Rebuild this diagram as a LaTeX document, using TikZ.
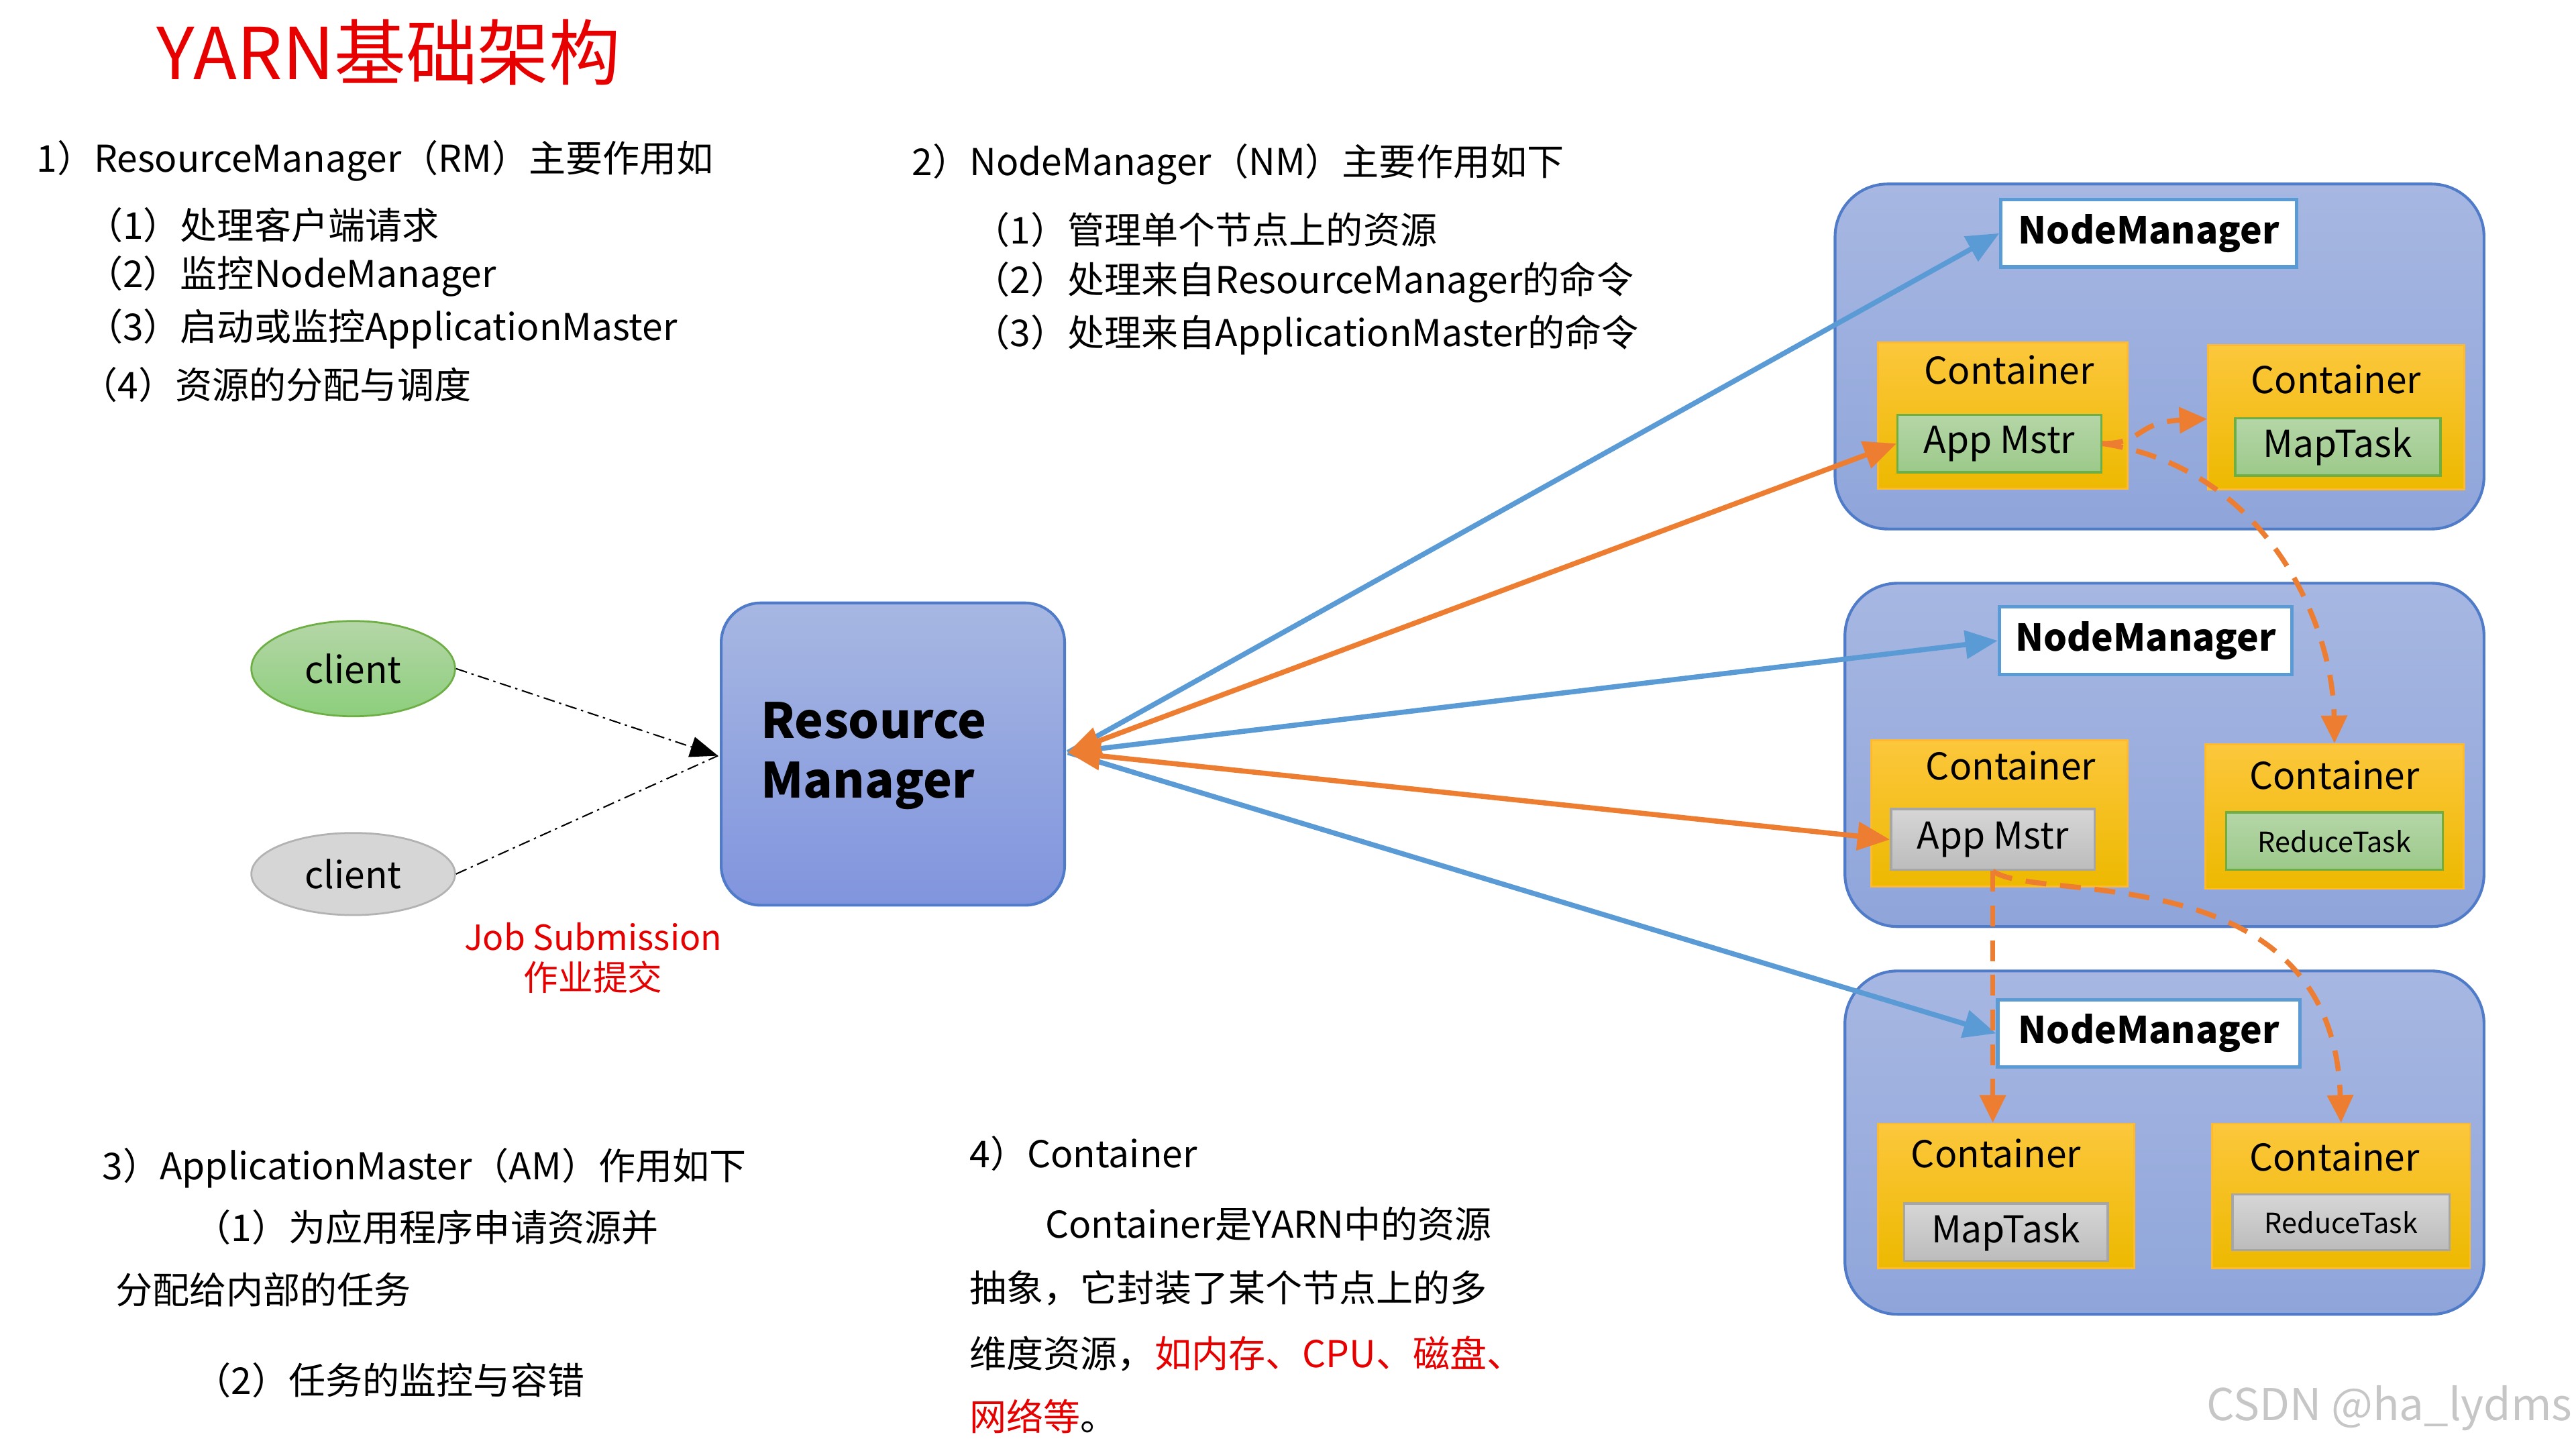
\documentclass[tikz,border=0pt]{standalone}
\usepackage{fontspec}
\setmainfont{Noto Sans CJK SC}
\usetikzlibrary{arrows.meta,shapes.geometric}
\definecolor{nmfill}{HTML}{8FA5DA}
\definecolor{nmtop}{HTML}{A7B7E2}
\definecolor{nmline}{HTML}{4F7BC8}
\definecolor{ctop}{HTML}{FCC73C}
\definecolor{cbot}{HTML}{EDB900}
\definecolor{gtop}{HTML}{B5D6A7}
\definecolor{gbot}{HTML}{9CC98A}
\definecolor{gline}{HTML}{6DAE45}
\definecolor{grtop}{HTML}{D6D6D6}
\definecolor{grbot}{HTML}{BCBCBC}
\definecolor{blueA}{HTML}{5B9BD5}
\definecolor{orA}{HTML}{ED7D31}
\definecolor{redT}{HTML}{E60000}
\tikzset{
 every node/.style={inner sep=0pt},
 txt/.style={anchor=west,font=\fontsize{16}{18}\selectfont},
 nm/.style={draw=nmline,line width=1.2pt,rounded corners=0.8cm,top color=nmtop,bottom color=nmfill},
 nml/.style={draw=blueA,line width=1.5pt,fill=white,font=\fontsize{16}{18}\selectfont\bfseries},
 cont/.style={draw=ctop!80!orange,line width=0.8pt,top color=ctop,bottom color=cbot},
 green/.style={draw=gline,line width=1pt,top color=gtop,bottom color=gbot,font=\fontsize{16}{18}\selectfont},
 grey/.style={draw=gray!70,line width=1pt,top color=grtop,bottom color=grbot,font=\fontsize{16}{18}\selectfont},
 ctxt/.style={font=\fontsize{16}{18}\selectfont},
 barrow/.style={blueA,line width=2.2pt,-{Triangle[length=14pt,width=12pt]}},
 oarrow/.style={orA,line width=2.2pt,{Triangle[length=14pt,width=12pt]}-{Triangle[length=14pt,width=12pt]}},
 darrow/.style={orA,line width=2.2pt,dash pattern=on 9pt off 6pt,-{Triangle[length=12pt,width=11pt]}},
}
\begin{document}
\begin{tikzpicture}[x=0.025cm,y=-0.025cm]
\useasboundingbox (0,0) rectangle (1568,882);
% title
\node[anchor=west,text=redT,font=\fontsize{31}{34}\selectfont] (title) at (95,32) {YARN基础架构};
% block 1
\node[txt] (b1) at (22,98) {1）ResourceManager（RM）主要作用如};
\node[txt] (b1a) at (52,137) {（1）处理客户端请求};
\node[txt] (b1b) at (52,168) {（2）监控NodeManager};
\node[txt] (b1c) at (52,200) {（3）启动或监控ApplicationMaster};
\node[txt] (b1d) at (49,234) {（4）资源的分配与调度};
% block 2
\node[txt] (b2) at (555,100) {2）NodeManager（NM）主要作用如下};
\node[txt] (b2a) at (592,140) {（1）管理单个节点上的资源};
\node[txt] (b2b) at (592,172) {（2）处理来自ResourceManager的命令};
\node[txt] (b2c) at (592,204) {（3）处理来自ApplicationMaster的命令};
% block 3
\node[txt] (b3) at (62,711) {3）ApplicationMaster（AM）作用如下};
\node[txt] (b3a) at (118,747) {（1）为应用程序申请资源并};
\node[txt] (b3b) at (70,785) {分配给内部的任务};
\node[txt] (b3c) at (118,840) {（2）任务的监控与容错};
% block 4
\node[txt] (b4) at (590,702) {4）Container};
\node[txt] (b4a) at (636,745) {Container是YARN中的资源};
\node[txt] (b4b) at (590,784) {抽象，它封装了某个节点上的多};
\node[txt] (b4c) at (590,824) {维度资源，\textcolor{redT}{如内存、CPU、磁盘、}};
\node[txt] (b4d) at (590,862) {\textcolor{redT}{网络等}。};
% watermark
\node[anchor=east,text=gray!45,font=\fontsize{19}{21}\selectfont] (wm) at (1566,857) {CSDN @ha\_lydms};
% clients
\node[draw=gline,line width=0.8pt,ellipse,top color=gtop,bottom color=gbot!90!green,minimum width=124*0.025cm,minimum height=58*0.025cm,ctxt] (c1) at (215,407) {client};
\node[draw=gray!60,line width=0.8pt,ellipse,fill=grtop,minimum width=124*0.025cm,minimum height=50*0.025cm,ctxt] (c2) at (215,532) {client};
% RM
\node[draw=nmline,line width=1.2pt,rounded corners=0.6cm,top color=nmtop,bottom color=nmfill!90!blue,minimum width=209*0.025cm,minimum height=184*0.025cm] (rm) at (543.5,459) {};
\node[anchor=west,align=left,font=\fontsize{21}{26}\selectfont\bfseries] (rmt) at (463,460) {Resource\\Manager};
\coordinate (rmin) at (437,460);
\draw[black,line width=0.6pt,dash pattern=on 5pt off 2pt on 1pt off 2pt,-{Triangle[length=12pt,width=9pt]}] (c1.east) -- (rmin);
\draw[black,line width=0.6pt,dash pattern=on 5pt off 2pt on 1pt off 2pt] (c2.east) -- (rmin);
\node[text=redT,align=center,font=\fontsize{15}{17.5}\selectfont] (job) at (361,583) {Job Submission\\作业提交};
% NM boxes
\draw[nm] (1117,112) rectangle (1512,322);
\draw[nm] (1123,355) rectangle (1512,564);
\draw[nm] (1123,591) rectangle (1512,800);
\node[nml,minimum width=180*0.025cm,minimum height=41*0.025cm] (nm1) at (1308,142) {NodeManager};
\node[nml,minimum width=178*0.025cm,minimum height=41*0.025cm] (nm2) at (1306,390) {NodeManager};
\node[nml,minimum width=184*0.025cm,minimum height=41*0.025cm] (nm3) at (1308,629) {NodeManager};
% containers
\node[cont,minimum width=152*0.025cm,minimum height=89*0.025cm] (k1) at (1219,253) {};
\node[ctxt] at (1223,225) {Container};
\node[green,minimum width=124*0.025cm,minimum height=35*0.025cm] (am1) at (1217,270) {App Mstr};
\node[cont,minimum width=156*0.025cm,minimum height=88*0.025cm] (k2) at (1422,254) {};
\node[ctxt] at (1422,231) {Container};
\node[green,minimum width=125*0.025cm,minimum height=35*0.025cm] (mt1) at (1423,272) {MapTask};
\node[cont,minimum width=156*0.025cm,minimum height=89*0.025cm] (k3) at (1217,495) {};
\node[ctxt] at (1224,466) {Container};
\node[grey,minimum width=124*0.025cm,minimum height=37*0.025cm] (am2) at (1213,511) {App Mstr};
\node[cont,minimum width=157*0.025cm,minimum height=88*0.025cm] (k4) at (1421,497) {};
\node[ctxt] at (1421,472) {Container};
\node[green,minimum width=132*0.025cm,minimum height=35*0.025cm,font=\fontsize{12}{14}\selectfont] (rt1) at (1421,512) {ReduceTask};
\node[cont,minimum width=156*0.025cm,minimum height=88*0.025cm] (k5) at (1221,728) {};
\node[ctxt] at (1215,702) {Container};
\node[grey,minimum width=124*0.025cm,minimum height=35*0.025cm] (mt2) at (1221,750) {MapTask};
\node[cont,minimum width=157*0.025cm,minimum height=88*0.025cm] (k6) at (1425,728) {};
\node[ctxt] at (1421,704) {Container};
\node[grey,minimum width=132*0.025cm,minimum height=34*0.025cm,font=\fontsize{12}{14}\selectfont] (rt2) at (1425,744) {ReduceTask};
% arrows from RM
\coordinate (rmo) at (650,458);
\draw[barrow] (rmo) -- (nm1.west);
\draw[barrow] (rmo) -- (nm2.west);
\draw[barrow] (rmo) -- (nm3.west);
\draw[oarrow] (rmo) -- (am1.west);
\draw[oarrow] (rmo) -- (am2.west);
% dashed
\draw[darrow] (am1.east) .. controls (1305,270) and (1300,257) .. (k2.west |- 0,255);
\draw[darrow] (am1.east) .. controls (1380,285) and (1420,380) .. (k4.north);
\draw[darrow] (am2.south) -- (am2.south |- k5.north);
\draw[darrow] (am2.south) .. controls (1240,550) and (1420,520) .. (k6.north);
\end{tikzpicture}
\end{document}
